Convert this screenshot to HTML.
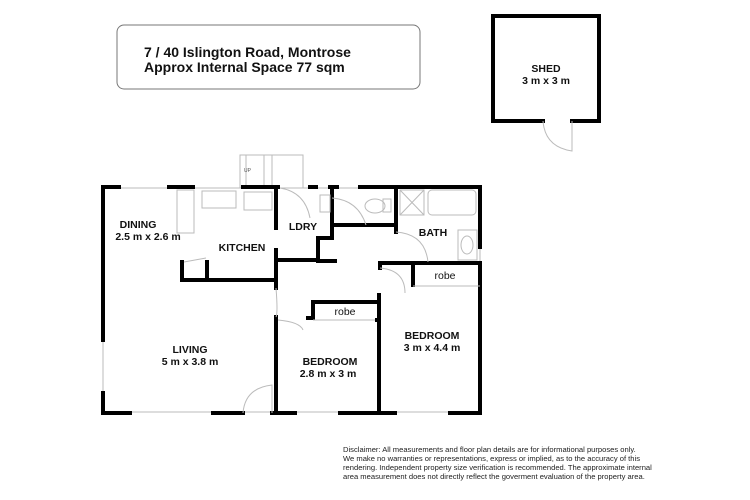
<!DOCTYPE html>
<html><head><meta charset="utf-8"><style>
html,body{margin:0;padding:0;background:#fff;}
svg{display:block;font-family:"Liberation Sans",Arial,sans-serif;}
.w{stroke:#000;stroke-width:4;fill:none;stroke-linecap:square;}
.t{stroke:#bbb;stroke-width:1;fill:none;}
.l{font-weight:bold;font-size:10.5px;fill:#111;text-anchor:middle;}
</style></head><body>
<svg width="750" height="500" viewBox="0 0 750 500">
<rect x="117" y="25" width="303" height="64" rx="7" fill="#fff" stroke="#777" stroke-width="1"/>
<text x="144" y="57" font-size="14" font-weight="bold" fill="#111">7 / 40 Islington Road, Montrose</text>
<text x="144" y="72" font-size="14" font-weight="bold" fill="#111">Approx Internal Space 77 sqm</text>
<!-- shed -->
<path class="w" d="M543,121 L493,121 L493,16 L599,16 L599,121 L572,121"/>
<path class="t" d="M543,121 Q545,147 572,151 L572,121"/>
<text class="l" x="546" y="72">SHED</text>
<text class="l" x="546" y="84">3 m x 3 m</text>
<!-- stairs -->
<rect class="t" x="240" y="155" width="63" height="33"/>
<line class="t" x1="246" y1="155" x2="246" y2="188"/><line class="t" x1="264" y1="155" x2="264" y2="188"/><line class="t" x1="272" y1="155" x2="272" y2="188"/>
<text x="244" y="172" font-size="5" fill="#555">UP</text>
<!-- thin windows -->
<line class="t" x1="103" y1="188" x2="480" y2="188"/>
<line class="t" x1="103" y1="340" x2="103" y2="393"/>
<line class="t" x1="103" y1="412" x2="480" y2="412"/>
<line class="t" x1="480" y1="247" x2="480" y2="263"/>
<!-- outer walls -->
<path class="w" d="M119,187 L103,187 L103,340"/>
<path class="w" d="M103,393 L103,413 L130,413"/>
<line class="w" x1="169" y1="187" x2="193" y2="187"/>
<line class="w" x1="243" y1="187" x2="278" y2="187"/>
<line class="w" x1="310" y1="187" x2="316" y2="187"/>
<line class="w" x1="330" y1="187" x2="337" y2="187"/>
<path class="w" d="M360,187 L480,187 L480,247"/>
<path class="w" d="M480,263 L480,413 L450,413"/>
<line class="w" x1="213" y1="413" x2="243" y2="413"/>
<line class="w" x1="272" y1="413" x2="295" y2="413"/>
<line class="w" x1="340" y1="413" x2="395" y2="413"/>
<!-- interior walls -->
<path class="w" d="M276,187 L276,228"/>
<path class="w" d="M276,250 L276,288"/>
<path class="w" d="M276,317 L276,413"/>
<path class="w" d="M276,260 L318,260 L318,238 L332,238 L332,187"/>
<line class="w" x1="318" y1="261" x2="335" y2="261"/>
<path class="w" d="M182,262 L182,280 L276,280 M207,262 L207,280"/>
<path class="t" d="M184,262 L206,258"/>
<path class="w" d="M396,187 L396,232 M336,225 L396,225"/>
<path class="w" d="M380,263 L480,263 M380,263 L380,268"/>
<path class="w" d="M413,263 L413,285"/>
<line class="t" x1="413" y1="286" x2="480" y2="286"/>
<path class="w" d="M379,295 L379,413"/>
<path class="w" d="M308,318 L313,318 L313,302 L379,302"/>
<line class="t" x1="313" y1="320" x2="379" y2="320"/>
<line class="w" x1="377" y1="320" x2="379" y2="320"/>
<!-- door arcs -->
<path class="t" d="M280,188 Q305,192 310,218 M332,198 Q358,200 366,225 M396,232 Q425,234 428,262 M380,268 Q405,270 405,293 M276,288 Q278,313 276,317 M278,320 Q300,322 303,330 M243,413 Q245,388 272,385 L272,413"/>
<!-- fixtures -->
<rect class="t" x="177" y="190" width="17" height="43"/>
<rect class="t" x="202" y="191" width="34" height="17"/>
<rect class="t" x="244" y="192" width="28" height="18"/>
<rect class="t" x="320" y="195" width="10" height="17"/>
<ellipse class="t" cx="375" cy="206" rx="10" ry="7"/><rect class="t" x="383" y="199" width="8" height="13"/>
<rect class="t" x="400" y="190" width="24" height="25"/><path class="t" d="M400,190 L424,215 M424,190 L400,215"/>
<rect class="t" x="428" y="190" width="48" height="25" rx="4"/>
<rect class="t" x="458" y="230" width="19" height="30"/><ellipse class="t" cx="467" cy="245" rx="6" ry="9"/>
<!-- labels -->
<text class="l" x="138" y="228">DINING</text>
<text class="l" x="148" y="240">2.5 m x 2.6 m</text>
<text class="l" x="242" y="251">KITCHEN</text>
<text class="l" x="303" y="230">LDRY</text>
<text class="l" x="433" y="236">BATH</text>
<text x="445" y="279" font-size="10.5" fill="#111" text-anchor="middle">robe</text>
<text x="345" y="315" font-size="10.5" fill="#111" text-anchor="middle">robe</text>
<text class="l" x="432" y="339">BEDROOM</text>
<text class="l" x="432" y="351">3 m x 4.4 m</text>
<text class="l" x="330" y="365">BEDROOM</text>
<text class="l" x="328" y="377">2.8 m x 3 m</text>
<text class="l" x="190" y="353">LIVING</text>
<text class="l" x="190" y="365">5 m x 3.8 m</text>
<g font-size="7.6" fill="#222">
<text x="343" y="452">Disclaimer: All measurements and floor plan details are for informational purposes only.</text>
<text x="343" y="461">We  make no warranties or representations, express or implied, as to the accuracy of this</text>
<text x="343" y="470">rendering. Independent property size verification is recommended. The approximate internal</text>
<text x="343" y="479">area measurement does not directly reflect the goverment evaluation of the property area.</text>
</g>
</svg>
</body></html>
